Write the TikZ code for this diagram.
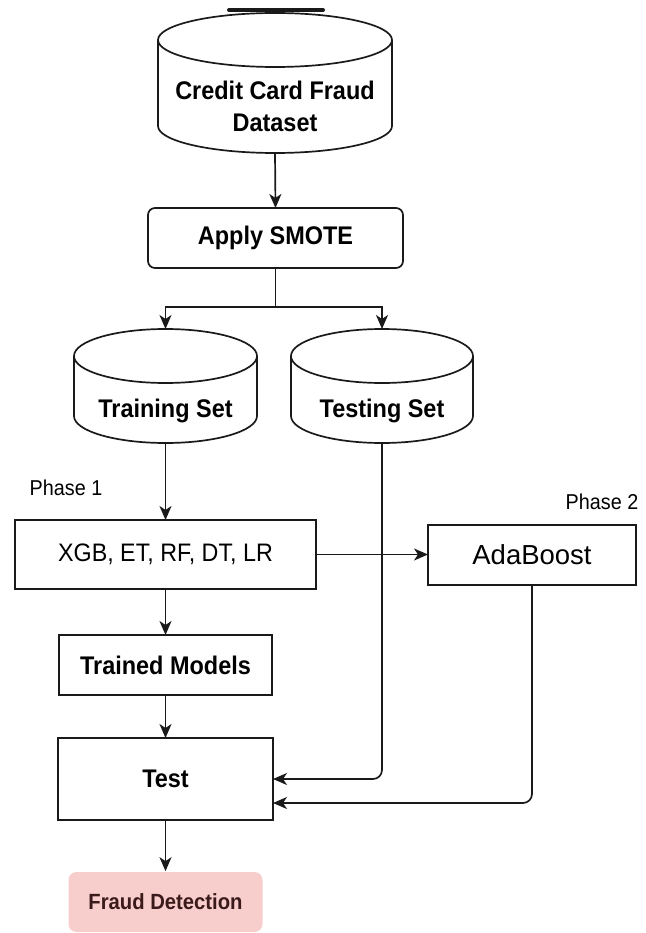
\documentclass[tikz,border=0pt]{standalone}
\usepackage{fontspec}
\setmainfont{Liberation Sans}
\newfontfamily\narrowsans{Liberation Sans}[FakeStretch=0.92]
\usetikzlibrary{arrows.meta}
\definecolor{fraudpink}{HTML}{F8CECC}
\definecolor{fraudink}{HTML}{3A1A1A}
\definecolor{edgeink}{HTML}{1A1A1A}

% cylinder outline round a named node: #1 node, #2 x radius
\newcommand\dbshape[2]{%
  \draw ([yshift=-27pt]#1.north) ellipse [x radius=#2, y radius=27pt];
  \draw ([yshift=-27pt]#1.north west) -- ([yshift=27pt]#1.south west)
    arc [start angle=180, end angle=360, x radius=#2, y radius=27pt]
    -- ([yshift=-27pt]#1.north east);
}

\begin{document}
\begin{tikzpicture}[x=1pt, y=-1pt, line width=1.7pt, draw=edgeink,
  >={Stealth[length=14pt,width=12pt,inset=4pt]},
  dbbody/.style={inner sep=0pt, outer sep=0pt, align=center,
    font=\narrowsans\bfseries\fontsize{25.5}{32}\selectfont},
  proc/.style={draw, inner sep=0pt, outer sep=0pt,
    font=\narrowsans\bfseries\fontsize{25.5}{30}\selectfont},
  phase/.style={font=\narrowsans\fontsize{21.5}{26}\selectfont}]
\useasboundingbox (0,0) rectangle (645,933);

% data stores
\node[dbbody, minimum width=234pt, text height=119pt, text depth=21pt] (fraudset) at (275,83) {Credit Card Fraud\\Dataset};
\dbshape{fraudset}{117pt}
\draw[line width=4pt, line cap=round] (229,10) -- (323,10);
\node[dbbody, minimum width=183pt, text height=88pt, text depth=26pt] (trainset) at (165.5,386) {Training Set};
\dbshape{trainset}{91.5pt}
\node[dbbody, minimum width=182pt, text height=88pt, text depth=26pt] (testset) at (382,386) {Testing Set};
\dbshape{testset}{91pt}

% steps
\node[proc, rounded corners=7pt, minimum width=255pt, minimum height=60pt] (smote) at (275.5,238) {Apply SMOTE};
\node[proc, minimum width=301pt, minimum height=69pt, font=\narrowsans\fontsize{25.3}{30}\selectfont] (models) at (165.5,554.5) {XGB, ET, RF, DT, LR};
\node[proc, minimum width=208pt, minimum height=60pt, font=\fontsize{27.5}{32}\selectfont] (ada) at (532,555) {AdaBoost};
\node[proc, minimum width=213pt, minimum height=60pt] (trained) at (165.5,665) {Trained Models};
\node[proc, minimum width=215pt, minimum height=82pt] (test) at (165.5,779) {Test};
\node[fill=fraudpink, rounded corners=8pt, inner sep=0pt, minimum width=194pt, minimum height=60pt,
  text=fraudink, font=\narrowsans\bfseries\fontsize{22}{26}\selectfont] (detect) at (165.5,902) {Fraud Detection};

\node[phase] (phaseone) at (66,488) {Phase 1};
\node[phase] (phasetwo) at (602,502) {Phase 2};

% connectors
\draw[->] (fraudset.south) -- (smote.north);
\draw[->] (smote.south) -- ++(0,39) -| (trainset.north);
\draw[->] (smote.south) -- ++(0,39) -| (testset.north);
\draw[->] (trainset.south) -- (models.north);
\draw[->] (models.east) -- (models.east -| ada.west);
\draw[->] (models.south) -- (trained.north);
\draw[->] (trained.south) -- (test.north);
\draw[->, rounded corners=9pt] (testset.south) |- (test.east);
\draw[->, rounded corners=9pt] (ada.south) |- ([yshift=-24pt]test.east);
\draw[->] (test.south) -- (detect.north);
\end{tikzpicture}
\end{document}
